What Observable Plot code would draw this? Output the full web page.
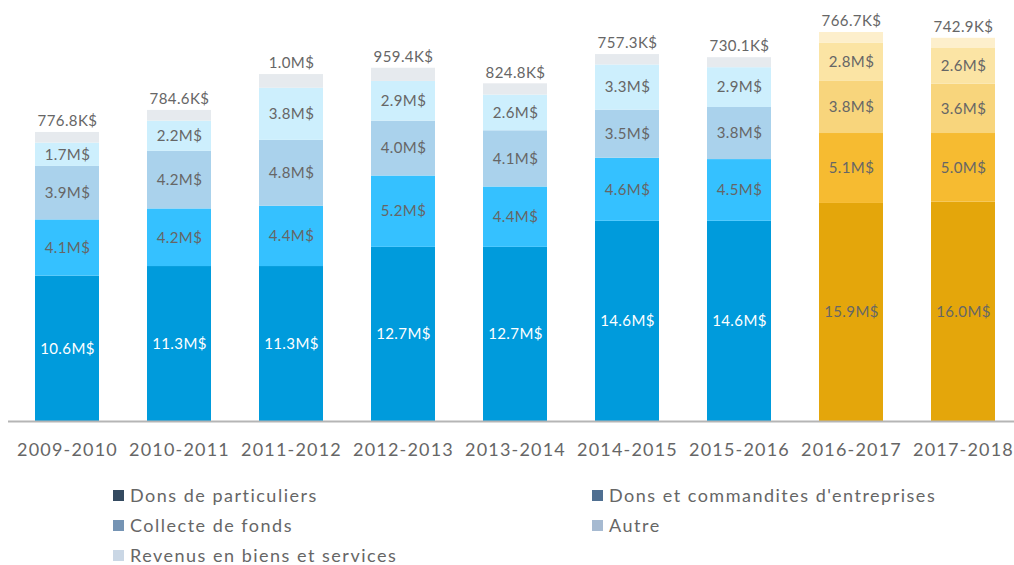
<!DOCTYPE html>
<html>
<head>
<meta charset="utf-8">
<script src="https://cdn.jsdelivr.net/npm/d3@7"></script>
<script src="https://cdn.jsdelivr.net/npm/@observablehq/plot@0.6"></script>
<style>
  body { margin: 0; background: #fff; font-family: Lato, "Open Sans", sans-serif; }
  #legend { position: relative; height: 95px; width: 1014px; font-size: 18px; color: #666; letter-spacing: 1.5px; }
  .item { position: absolute; display: flex; align-items: center; height: 30px; line-height: 30px; }
  .sw { width: 11px; height: 11px; margin-right: 6px; }
  #chart text { letter-spacing: 0.4px; }
  #chart g[aria-label="x-axis tick label"] text { letter-spacing: 1.2px; }
</style>
</head>
<body>
<div id="chart"></div>
<div id="legend"></div>
<script>
const years = ["2009-2010","2010-2011","2011-2012","2012-2013","2013-2014","2014-2015","2015-2016","2016-2017","2017-2018"];
const series = ["Dons de particuliers","Dons et commandites d'entreprises","Collecte de fonds","Autre","Revenus en biens et services"];
// values in millions of $
const donsParticuliers = [10.6, 11.3, 11.3, 12.7, 12.7, 14.6, 14.6, 15.9, 16.0];
const donsEntreprises  = [4.1, 4.2, 4.4, 5.2, 4.4, 4.6, 4.5, 5.1, 5.0];
const collecteFonds    = [3.9, 4.2, 4.8, 4.0, 4.1, 3.5, 3.8, 3.8, 3.6];
const autre            = [1.7, 2.2, 3.8, 2.9, 2.6, 3.3, 2.9, 2.8, 2.6];
const biensServices    = [0.7768, 0.7846, 1.0, 0.9594, 0.8248, 0.7573, 0.7301, 0.7667, 0.7429];
const goldYears = ["2016-2017","2017-2018"];

const bluePalette = ["#009bdc", "#35c1ff", "#aad2ec", "#cdeffd", "#e6eaee"];
const goldPalette = ["#e4a60b", "#f6bb31", "#f8d57c", "#fbe4a4", "#fdefcc"];
const legendPalette = ["#344a60", "#4f6f91", "#7594b4", "#a6bad1", "#cad7e5"];

const allSeries = [donsParticuliers, donsEntreprises, collecteFonds, autre, biensServices];
const data = [];
years.forEach((y, i) => {
  let base = 0;
  allSeries.forEach((arr, s) => {
    const v = arr[i];
    data.push({year: y, series: series[s], s, value: v, y1: base, y2: base + v,
      fill: (goldYears.includes(y) ? goldPalette : bluePalette)[s]});
    base += v;
  });
});
const fmt = v => v >= 1 ? v.toFixed(1) + "M$" : (v * 1000).toFixed(1) + "K$";

const innerSegs = data.filter(d => d.s > 0 && d.s < 4);
const bottomSegs = data.filter(d => d.s === 0);
const topSegs = data.filter(d => d.s === 4);

const plot = Plot.plot({
  width: 1014,
  height: 470,
  marginLeft: 33,
  marginRight: 17,
  marginTop: 0,
  marginBottom: 49,
  style: {fontFamily: "Lato, 'Open Sans', sans-serif", background: "#fff"},
  x: {domain: years, padding: 0.43, paddingOuter: 0, label: null, axis: null},
  y: {domain: [0, 30.7], axis: null},
  color: {type: "identity"},
  marks: [
    Plot.rectY(data, {x: "year", y1: "y1", y2: "y2", fill: "fill"}),
    Plot.ruleY([0], {stroke: "#b5b5b5", strokeWidth: 2, insetLeft: -25, insetRight: -17}),
    Plot.text(innerSegs, {x: "year", y: d => (d.y1 + d.y2) / 2, text: d => fmt(d.value), fill: "#666666", fontSize: 15}),
    Plot.text(bottomSegs, {x: "year", y: d => (d.y1 + d.y2) / 2, text: d => fmt(d.value),
      fill: d => goldYears.includes(d.year) ? "#666666" : "#ffffff",
      fontWeight: d => goldYears.includes(d.year) ? "normal" : "bold", fontSize: 15}),
    Plot.text(topSegs, {x: "year", y: "y2", dy: -11, text: d => fmt(d.value), fill: "#666666", fontSize: 15}),
    Plot.axisX({tickSize: 0, tickPadding: 22, fontSize: 18, fill: "#666666", label: null})
  ]
});
document.getElementById("chart").appendChild(plot);

const legend = document.getElementById("legend");
const positions = [[113, 10], [592, 10], [113, 40], [592, 40], [113, 70]];
series.forEach((name, i) => {
  const el = document.createElement("div");
  el.className = "item";
  el.style.left = positions[i][0] + "px";
  el.style.top = positions[i][1] + "px";
  el.innerHTML = `<div class="sw" style="background:${legendPalette[i]}"></div><span>${name}</span>`;
  legend.appendChild(el);
});
</script>
</body>
</html>
